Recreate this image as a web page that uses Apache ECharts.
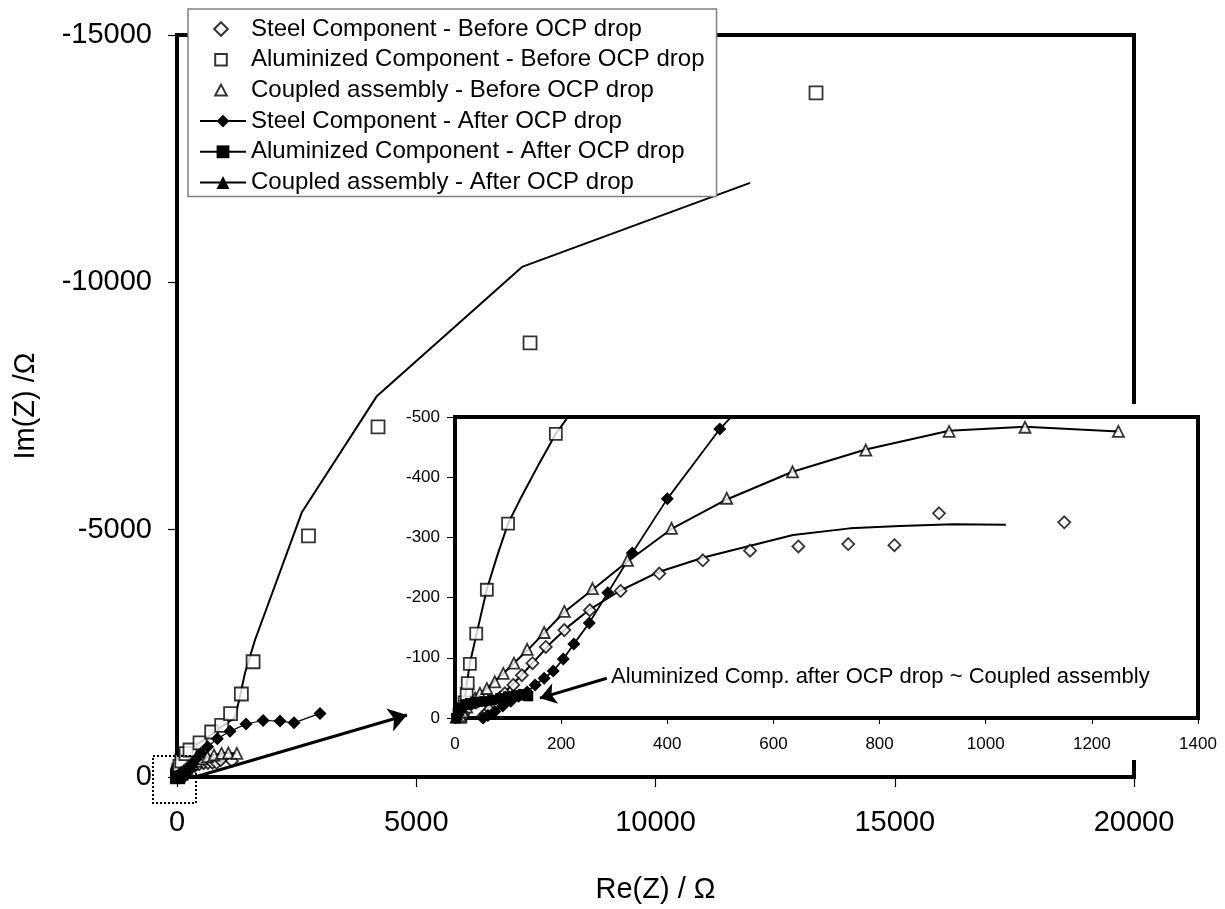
<!DOCTYPE html>
<html>
<head>
<meta charset="utf-8">
<script src="https://cdn.jsdelivr.net/npm/echarts@6/dist/echarts.min.js"></script>
<style>
html,body{margin:0;padding:0;background:#fff;}
#chart{width:1225px;height:909px;}
</style>
</head>
<body>
<div id="chart"></div>
<script>
// ---------------- DATA ----------------
const seriesNames = [
  'Steel Component - Before OCP drop',
  'Aluminized Component - Before OCP drop',
  'Coupled assembly - Before OCP drop',
  'Steel Component - After OCP drop',
  'Aluminized Component - After OCP drop',
  'Coupled assembly - After OCP drop'
];

// [Re(Z), Im(Z)] in ohm
const steelBefore = [[52,-2],[58,-7],[66,-15],[75,-24],[84,-33],[94,-41],[110,-55],[126,-71],[146,-91],[171,-118],[206,-146],[254,-179],[312,-211],[385,-240],[467,-262],[556,-278],[647,-285],[741,-289],[828,-287],[912,-340],[1148,-325]];
const alBefore = [[10,-2],[12,-8],[15,-15],[18,-26],[22,-40],[24,-58],[28,-90],[40,-140],[60,-213],[100,-323],[190,-472],[272,-546],[481,-690],[725,-910],[934,-1045],[1120,-1280],[1345,-1678],[1590,-2330],[2748,-4873],[4201,-7077],[7378,-8775],[13355,-13830]];
const coupledBefore = [[10,-4],[15,-10],[22,-18],[30,-25],[38,-33],[47,-41],[60,-49],[75,-60],[91,-74],[111,-91],[136,-114],[168,-142],[206,-177],[259,-215],[325,-262],[408,-315],[512,-365],[636,-409],[774,-445],[931,-476],[1074,-483],[1250,-476]];
const steelAfter = [[53,0],[62,-4],[75,-11],[90,-20],[105,-28],[120,-36],[136,-43],[151,-55],[168,-66],[185,-78],[204,-98],[224,-123],[253,-158],[288,-208],[334,-274],[400,-364],[499,-480],[640,-612],[843,-775],[1108,-923],[1442,-1072],[1800,-1142],[2153,-1130],[2445,-1095],[2989,-1285]];
const alAfter = [[2,0],[5,-8],[10,-16],[18,-22],[28,-25],[40,-27],[55,-28],[70,-30],[85,-33],[100,-36],[115,-38],[128,-40],[138,-36]];
const coupledAfter = [[0,0],[4,-6],[8,-13],[14,-19],[24,-23],[36,-26],[50,-28],[65,-30],[80,-33],[95,-36],[110,-38],[122,-38]];

// fitted curves (drawn as plain lines)
const steelBeforeFit = [[45,0],[58,-10],[72,-24],[88,-38],[105,-53],[125,-71],[150,-95],[180,-124],[215,-153],[255,-181],[310,-211],[385,-243],[470,-267],[560,-287],[637,-304],[744,-315],[838,-319],[939,-322],[1038,-321]];
const alBeforeFit = [[14,0],[18,-30],[22,-55],[28,-91],[41,-141],[60,-214],[79,-268],[100,-323],[122,-362],[160,-425],[190,-472],[220,-509],[300,-575],[480,-700],[700,-850],[950,-1030],[1212,-1200],[1300,-1560],[1421,-2103],[1630,-2770],[2613,-5358],[4180,-7704],[7211,-10312],[11976,-12011]];
const coupledBeforeFit = [[10,-4],[22,-16],[38,-31],[60,-49],[91,-74],[136,-112],[206,-176],[259,-213],[325,-260],[408,-314],[512,-363],[636,-409],[774,-446],[931,-477],[1074,-484],[1250,-476]];

// tick labels
const mainXTicks = [0,5000,10000,15000,20000];
const mainYTicks = [0,-5000,-10000,-15000];
const insetXTicks = [0,200,400,600,800,1000,1200,1400];
const insetYTicks = [0,-100,-200,-300,-400,-500];

// annotation arrows (data coordinates)
const mainArrow = [[376,0],[4807,-1254]];
const insetArrow = [[286,-66],[160,-33]];
const annotationText = 'Aluminized Comp. after OCP drop ~ Coupled assembly';

// ---------------- CHART ----------------
const FONT = "'Liberation Sans', Arial, sans-serif";
const chart = echarts.init(document.getElementById('chart'), null, {renderer:'canvas'});

function range(t){ return {min:Math.min(...t), max:Math.max(...t), interval:Math.abs(t[1]-t[0])}; }
const mx = range(mainXTicks), my = range(mainYTicks), ix = range(insetXTicks), iy = range(insetYTicks);

const openStyle = {color:'#fff', borderColor:'#000', borderWidth:1.8};
const fillStyle = {color:'#000', borderColor:'#000', borderWidth:0};

// legend icons for the marker-only entries: symbol drawn in a 46x16 box (no stretching)
const legendIcons = [
  'path://M0,0M46,16M21,1.2L27.8,8L21,14.8L14.2,8Z',
  'path://M0,0M46,16M15.2,2.2L26.8,2.2L26.8,13.8L15.2,13.8Z',
  'path://M0,0M46,16M21,2.2L26.8,13.2L15.2,13.2Z'
];

function buildSeries(g){
  const z = g === 0 ? 2 : 20;
  const ax = {xAxisIndex:g, yAxisIndex:g, z:z, silent:true};
  const fit = (name, data) => Object.assign({type:'line', name:name, data:data, symbol:'none',
      lineStyle:{color:'#000', width:2}, itemStyle:{color:'#000'}, clip:true}, ax);
  const sc = (i, data, sym, size) => Object.assign({type:'scatter', name:seriesNames[i], data:data,
      symbol:sym, symbolSize:size, itemStyle:openStyle, clip:true}, ax);
  const ln = (i, data, sym, size, w) => Object.assign({type:'line', name:seriesNames[i], data:data,
      symbol:sym, symbolSize:size, showSymbol:true, itemStyle:fillStyle,
      lineStyle:{color:'#000', width:w}, clip:true}, ax);
  return [
    fit('fitSteelBefore', steelBeforeFit),
    fit('fitAlBefore', alBeforeFit),
    fit('fitCoupledBefore', coupledBeforeFit),
    sc(0, steelBefore, 'diamond', 12),
    sc(1, alBefore, 'rect', g === 0 ? 13 : 12),
    sc(2, coupledBefore, 'triangle', 11),
    ln(3, steelAfter, 'diamond', 13, g === 0 ? 1.2 : 1.8),
    ln(4, alAfter, 'rect', 10, 2.5),
    ln(5, coupledAfter, 'triangle', 11, 2.5)
  ];
}

function arrowSeries(g, pts, width, size){
  return {type:'line', name:'arrow'+g, xAxisIndex:g, yAxisIndex:g, data:[], z:30, silent:true,
    markLine:{silent:true, z:30, symbol:['none','arrow'], symbolSize:size, animation:false,
      label:{show:false}, lineStyle:{color:'#000', width:width, type:'solid'},
      emphasis:{disabled:true},
      data:[[{coord:pts[0]},{coord:pts[1]}]]}};
}

const labelStyle = (size) => ({color:'#000', fontSize:size, fontFamily:FONT});

const legendData = seriesNames.map((n, i) => i < 3 ? {name:n, icon:legendIcons[i]} : {name:n});

const option = {
  animation:false,
  backgroundColor:'#fff',
  grid:[
    {left:177, top:35, width:957, height:742, show:true, borderColor:'#000', borderWidth:4,
     backgroundColor:'transparent', containLabel:false, outerBoundsMode:'none'},
    {left:455, top:417, width:743, height:301, show:true, borderColor:'#000', borderWidth:4,
     backgroundColor:'#fff', z:10, containLabel:false, outerBoundsMode:'none'}
  ],
  xAxis:[
    {gridIndex:0, type:'value', min:mx.min, max:mx.max, interval:mx.interval,
     axisLine:{show:true, lineStyle:{color:'#000', width:4}},
     axisTick:{show:true, length:10, lineStyle:{color:'#000', width:1.2}},
     axisLabel:Object.assign({margin:31, showMinLabel:true, showMaxLabel:true, formatter:v=>String(v)}, labelStyle(29)),
     splitLine:{show:false},
     name:'Re(Z) / Ω', nameLocation:'middle', nameGap:98, nameTextStyle:labelStyle(29)},
    {gridIndex:1, type:'value', min:ix.min, max:ix.max, interval:ix.interval, z:20,
     axisLine:{show:true, lineStyle:{color:'#000', width:4}},
     axisTick:{show:true, length:6, lineStyle:{color:'#000', width:1}},
     axisLabel:Object.assign({margin:18, showMinLabel:true, showMaxLabel:true, formatter:v=>String(v)}, labelStyle(17)),
     splitLine:{show:false}}
  ],
  yAxis:[
    {gridIndex:0, type:'value', min:my.min, max:my.max, interval:my.interval, inverse:true,
     axisLine:{show:true, lineStyle:{color:'#000', width:4}},
     axisTick:{show:true, length:9, lineStyle:{color:'#000', width:1.2}},
     axisLabel:Object.assign({margin:25, showMinLabel:true, showMaxLabel:true, formatter:v=>String(v)}, labelStyle(29)),
     splitLine:{show:false},
     name:'Im(Z) /Ω', nameLocation:'middle', nameGap:137, nameRotate:90, nameTextStyle:labelStyle(29)},
    {gridIndex:1, type:'value', min:iy.min, max:iy.max, interval:iy.interval, inverse:true, z:20,
     axisLine:{show:true, lineStyle:{color:'#000', width:4}},
     axisTick:{show:true, length:8, lineStyle:{color:'#000', width:1}},
     axisLabel:Object.assign({margin:15, showMinLabel:true, showMaxLabel:true, formatter:v=>String(v)}, labelStyle(17)),
     splitLine:{show:false}}
  ],
  legend:{
    orient:'vertical', left:188, top:9, padding:[8,12,2,11], itemGap:6.7,
    itemWidth:46, itemHeight:16,
    backgroundColor:'#fff', borderColor:'#7f7f7f', borderWidth:1.5,
    textStyle:{fontSize:24, fontFamily:FONT, color:'#000', lineHeight:24},
    data:legendData, selectedMode:false, z:5
  },
  graphic:[
    {type:'rect', silent:true, z:8, shape:{x:398, y:404, width:820, height:356}, style:{fill:'#fff'}},
    {type:'rect', silent:true, z:30, shape:{x:153, y:756, width:43, height:47},
     style:{fill:'none', stroke:'#000', lineWidth:2, lineDash:[2,2]}},
    {type:'text', silent:true, z:30, x:611, y:677,
     style:{text:annotationText, fontSize:22, fontFamily:FONT, fill:'#000', align:'left', verticalAlign:'middle'}}
  ],
  series:[].concat(
    buildSeries(0),
    [arrowSeries(0, mainArrow, 3, 18)],
    buildSeries(1),
    [arrowSeries(1, insetArrow, 3, 16)]
  )
};
chart.setOption(option);
</script>
</body>
</html>
